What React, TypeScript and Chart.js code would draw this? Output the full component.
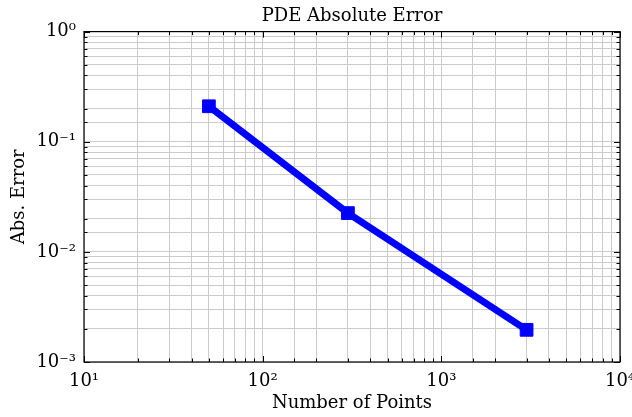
import React, { useEffect, useRef } from "react";
import { Chart, registerables } from "chart.js";

Chart.register(...registerables);

const numberOfPoints = [50, 300, 3000];
const absError = [0.21, 0.0225, 0.00196];
const xTickDecades = [10, 100, 1000, 10000];
const yTickDecades = [0.001, 0.01, 0.1, 1];
const titleText = "PDE Absolute Error";
const xTitle = "Number of Points";
const yTitle = "Abs. Error";

const SUP: Record<string, string> = {
  "0": "\u2070", "1": "\u00B9", "2": "\u00B2", "3": "\u00B3", "4": "\u2074",
  "5": "\u2075", "6": "\u2076", "7": "\u2077", "8": "\u2078", "9": "\u2079", "-": "\u207B",
};
const isDecade = (v: number) => Math.abs(Math.log10(v) - Math.round(Math.log10(v))) < 1e-9;
const decadeLabel = (v: number) => {
  const e = String(Math.round(Math.log10(v)));
  return "10" + e.split("").map((c) => SUP[c] || c).join("");
};

const FONT = "'DejaVu Serif', 'Liberation Serif', serif";

const frameAndTicks = {
  id: "frameAndTicks",
  afterDatasetsDraw(chart: any) {
    const { ctx, chartArea, scales } = chart;
    const { left, right, top, bottom } = chartArea;
    ctx.save();
    ctx.strokeStyle = "#000";
    ctx.lineWidth = 1;
    ctx.beginPath();
    scales.x.ticks.forEach((t: any) => {
      const px = Math.round(scales.x.getPixelForValue(t.value)) + 0.5;
      const len = isDecade(t.value) ? 6 : 3.5;
      ctx.moveTo(px, bottom);
      ctx.lineTo(px, bottom - len);
      ctx.moveTo(px, top);
      ctx.lineTo(px, top + len);
    });
    scales.y.ticks.forEach((t: any) => {
      const py = Math.round(scales.y.getPixelForValue(t.value)) + 0.5;
      const len = isDecade(t.value) ? 6 : 3.5;
      ctx.moveTo(left, py);
      ctx.lineTo(left + len, py);
      ctx.moveTo(right, py);
      ctx.lineTo(right - len, py);
    });
    ctx.stroke();
    ctx.restore();
  },
  afterDraw(chart: any) {
    const { ctx, chartArea } = chart;
    ctx.save();
    ctx.strokeStyle = "#000";
    ctx.lineWidth = 1.2;
    ctx.strokeRect(chartArea.left, chartArea.top, chartArea.right - chartArea.left, chartArea.bottom - chartArea.top);
    ctx.restore();
  },
};

export default function App() {
  const ref = useRef<HTMLCanvasElement>(null);
  useEffect(() => {
    if (!ref.current) return;
    const data = numberOfPoints.map((x, i) => ({ x, y: absError[i] }));
    const chart = new Chart(ref.current, {
      type: "line",
      data: {
        datasets: [
          {
            data,
            borderColor: "#0000ff",
            backgroundColor: "#0000ff",
            borderWidth: 7,
            pointStyle: "rect",
            pointRadius: 9,
            pointBorderWidth: 1,
            pointBackgroundColor: "#0000ff",
            pointBorderColor: "#0000ff",
            tension: 0,
          },
        ],
      },
      options: {
        responsive: false,
        animation: false,
        layout: { padding: { left: 0, right: 12, top: 0, bottom: 0 } },
        plugins: {
          legend: { display: false },
          tooltip: { enabled: false },
          title: {
            display: true,
            text: titleText,
            fullSize: false,
            color: "#000",
            font: { family: FONT, size: 18, weight: "normal" },
            padding: { top: 6, bottom: 4 },
          },
        },
        scales: {
          x: {
            type: "logarithmic",
            min: xTickDecades[0],
            max: xTickDecades[xTickDecades.length - 1],
            afterFit: (s: any) => { s.height = 55; s.paddingRight = 0; s.paddingLeft = 0; },
            grid: { color: "#cbcbcb", lineWidth: 1, drawTicks: false },
            border: { display: false },
            ticks: {
              autoSkip: false,
              maxRotation: 0,
              padding: 9,
              color: "#000",
              font: { family: FONT, size: 18 },
              callback: (v: any) => (xTickDecades.includes(Number(v)) ? decadeLabel(Number(v)) : ""),
            },
            title: {
              display: true,
              text: xTitle,
              color: "#000",
              font: { family: FONT, size: 18 },
              padding: { top: 0, bottom: 3 },
            },
          },
          y: {
            type: "logarithmic",
            min: yTickDecades[0],
            max: yTickDecades[yTickDecades.length - 1],
            afterFit: (s: any) => { s.width = 84; s.paddingTop = 0; s.paddingBottom = 0; },
            grid: { color: "#cbcbcb", lineWidth: 1, drawTicks: false },
            border: { display: false },
            ticks: {
              autoSkip: false,
              padding: 8,
              color: "#000",
              font: { family: FONT, size: 18 },
              callback: (v: any) => (yTickDecades.some((d) => Math.abs(d - Number(v)) < d * 1e-6) ? decadeLabel(Number(v)) : ""),
            },
            title: {
              display: true,
              text: yTitle,
              color: "#000",
              font: { family: FONT, size: 18 },
              padding: { top: 9, bottom: 0 },
            },
          },
        },
      },
      plugins: [frameAndTicks],
    } as any);
    return () => chart.destroy();
  }, []);
  return (
    <div style={{ position: "absolute", left: 0, top: 0, width: 632, height: 417, background: "#fff" }}>
      <canvas ref={ref} width={632} height={417} style={{ width: 632, height: 417 }} />
    </div>
  );
}
